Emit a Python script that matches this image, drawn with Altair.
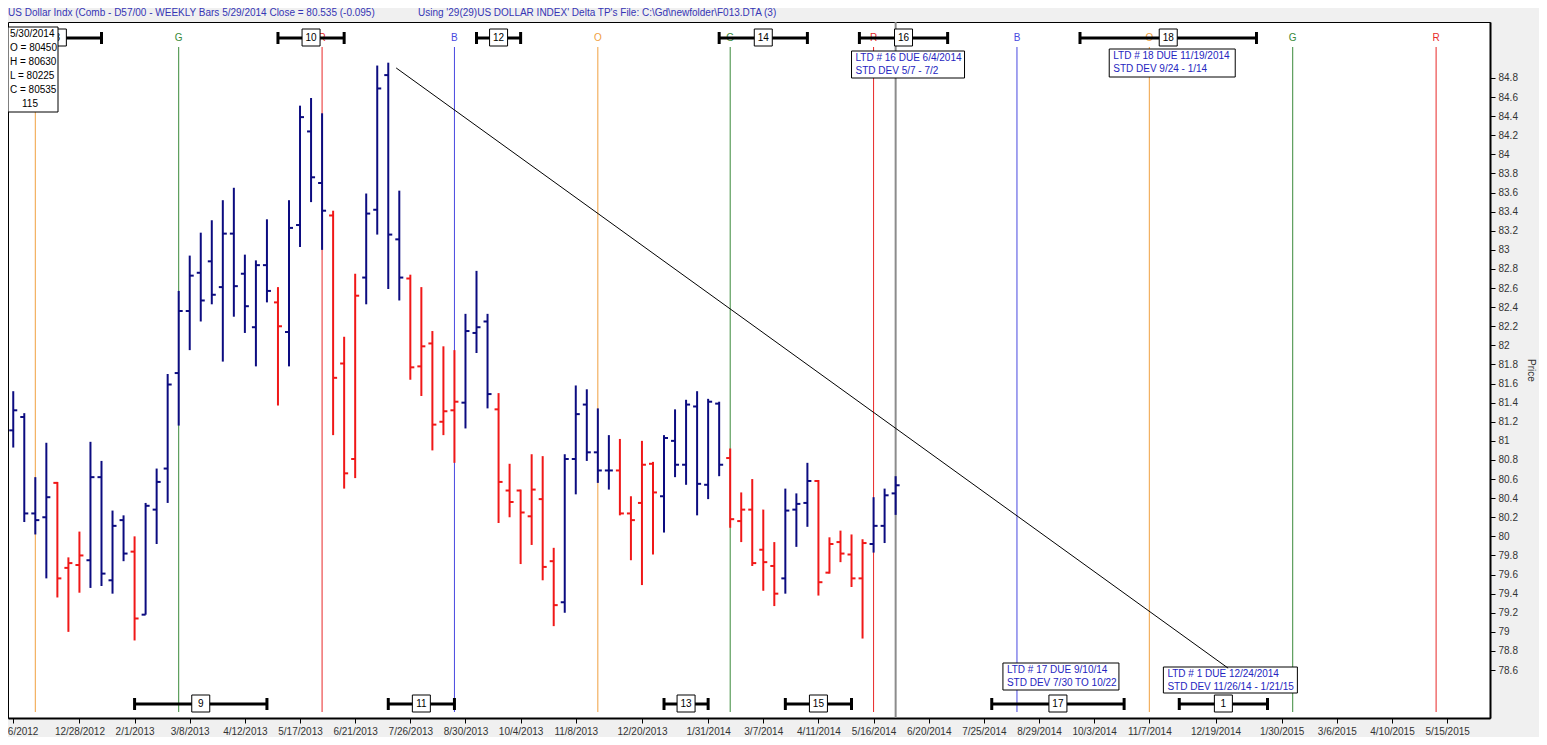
import altair as alt
import pandas as pd

FONT = "Liberation Sans"
NAVY = "#0c0c80"
RED = "#f01818"

# ---------------- weekly OHLC data ----------------
dates = [
    "2012-11-16", "2012-11-23", "2012-11-30", "2012-12-07", "2012-12-14", "2012-12-21", "2012-12-28",
    "2013-01-04", "2013-01-11", "2013-01-18", "2013-01-25", "2013-02-01", "2013-02-08", "2013-02-15", "2013-02-22",
    "2013-03-01", "2013-03-08", "2013-03-15", "2013-03-22", "2013-03-29", "2013-04-05", "2013-04-12", "2013-04-19", "2013-04-26",
    "2013-05-03", "2013-05-10", "2013-05-17", "2013-05-24", "2013-05-31", "2013-06-07", "2013-06-14", "2013-06-21", "2013-06-28",
    "2013-07-05", "2013-07-12", "2013-07-19", "2013-07-26", "2013-08-02", "2013-08-09", "2013-08-16", "2013-08-23", "2013-08-30",
    "2013-09-06", "2013-09-13", "2013-09-20", "2013-09-27", "2013-10-04", "2013-10-11", "2013-10-18", "2013-10-25",
    "2013-11-01", "2013-11-08", "2013-11-15", "2013-11-22", "2013-11-29", "2013-12-06", "2013-12-13", "2013-12-20", "2013-12-27",
    "2014-01-03", "2014-01-10", "2014-01-17", "2014-01-24", "2014-01-31", "2014-02-07", "2014-02-14", "2014-02-21", "2014-02-28",
    "2014-03-07", "2014-03-14", "2014-03-21", "2014-03-28", "2014-04-04", "2014-04-11", "2014-04-18", "2014-04-25",
    "2014-05-02", "2014-05-09", "2014-05-16", "2014-05-23", "2014-05-30",
]
opens = [
    81.11, 81.25, 80.24, 80.20, 80.56, 79.67, 79.70,
    79.75, 80.62, 79.54, 80.17, 79.84, 79.18, 80.28, 80.71,
    81.71, 82.36, 82.76, 82.88, 82.61, 83.17, 82.75, 82.19, 82.84,
    82.45, 82.14, 83.26, 84.24, 83.70, 83.36, 81.81, 80.81, 82.71,
    83.42, 84.83, 83.11, 82.70, 81.78, 82.02, 81.20, 81.32, 81.40,
    82.13, 82.25, 81.33, 80.48, 80.48, 80.21, 80.39, 79.74,
    79.31, 80.81, 81.38, 80.88, 80.69, 80.69, 80.24, 80.35, 80.76,
    80.42, 81.00, 80.75, 81.36, 80.54, 81.39, 80.82, 80.16, 80.28,
    79.86, 79.69, 79.56, 80.28, 80.35, 80.58, 79.62, 79.94,
    79.81, 79.56, 79.92, 80.11, 80.45,
]
highs = [
    81.52, 81.29, 80.62, 80.98, 80.57, 79.78, 80.05,
    80.99, 80.79, 80.27, 80.22, 80.00, 80.35, 80.71, 81.70,
    82.57, 82.94, 83.18, 83.31, 83.52, 83.65, 82.95, 82.89, 83.32,
    82.61, 83.52, 84.51, 84.59, 84.43, 83.41, 82.09, 82.75, 83.59,
    84.93, 84.96, 83.62, 82.74, 82.61, 82.15, 81.99, 81.95, 82.33,
    82.78, 82.33, 81.50, 80.76, 80.49, 80.86, 80.84, 79.88,
    80.86, 81.58, 81.54, 81.34, 81.06, 81.02, 80.42, 81.00, 80.78,
    81.06, 81.33, 81.43, 81.52, 81.44, 81.41, 80.92, 80.46, 80.60,
    80.28, 79.94, 80.50, 80.45, 80.77, 80.59, 79.99, 80.06,
    80.02, 79.97, 80.41, 80.50, 80.63,
]
lows = [
    80.93, 80.15, 80.02, 79.56, 79.36, 79.00, 79.41,
    79.46, 79.48, 79.40, 79.74, 78.91, 79.18, 79.92, 80.35,
    81.16, 81.95, 82.25, 82.43, 81.83, 82.30, 82.13, 81.78, 82.45,
    81.37, 81.78, 83.03, 83.50, 83.00, 81.06, 80.50, 80.61, 82.43,
    83.16, 82.59, 82.47, 81.64, 81.47, 80.90, 81.06, 80.77, 81.13,
    81.92, 81.34, 80.14, 80.20, 79.71, 79.91, 79.54, 79.06,
    79.20, 80.44, 80.79, 80.56, 80.49, 80.22, 79.75, 79.49, 79.81,
    80.04, 80.62, 80.54, 80.22, 80.39, 80.63, 80.09, 79.94, 79.69,
    79.43, 79.27, 79.40, 79.89, 80.10, 79.38, 79.61, 79.73,
    79.47, 78.93, 79.83, 79.93, 80.225,
]
closes = [
    81.32, 80.24, 80.17, 80.41, 79.56, 79.72, 79.80,
    80.62, 79.61, 80.11, 79.82, 79.14, 80.32, 80.57, 81.59,
    82.36, 82.73, 82.47, 82.53, 83.17, 82.62, 82.41, 82.84, 82.57,
    82.20, 83.23, 84.39, 83.76, 83.41, 81.66, 80.66, 82.52, 83.38,
    84.69, 83.16, 82.71, 81.77, 81.99, 81.17, 81.31, 81.41, 82.15,
    82.19, 81.49, 80.57, 80.36, 80.25, 80.49, 79.68, 79.28,
    80.81, 81.28, 80.88, 80.69, 80.69, 80.24, 80.17, 80.75, 80.46,
    81.03, 80.75, 81.38, 80.55, 81.41, 80.75, 80.18, 80.28, 79.72,
    79.73, 79.40, 80.27, 80.34, 80.58, 79.52, 79.92, 79.82,
    79.56, 79.93, 80.11, 80.43, 80.535,
]
bar_color = list(
    "BBBB" "RRR" "BBBB" "R" "BBBBBBBBBBBB" "R" "BBBB" "RRR" "BBBB" "RRRRR"
    "BBB" "RRRRRR" "BBBBB" "RRRR" "BBBBBB" "RRRRR" "BBB" "RRRRR" "BBB"
)

# ---------------- axis ticks ----------------
x_label_dates = [
    "2012-11-16", "2012-12-28", "2013-02-01", "2013-03-08", "2013-04-12", "2013-05-17", "2013-06-21",
    "2013-07-26", "2013-08-30", "2013-10-04", "2013-11-08", "2013-12-20", "2014-01-31", "2014-03-07",
    "2014-04-11", "2014-05-16", "2014-06-20", "2014-07-25", "2014-08-29", "2014-10-03", "2014-11-07",
    "2014-12-19", "2015-01-30", "2015-03-06", "2015-04-10", "2015-05-15",
]
y_tick_values = [78.6, 78.8, 79.0, 79.2, 79.4, 79.6, 79.8, 80.0, 80.2, 80.4, 80.6, 80.8, 81.0, 81.2,
                 81.4, 81.6, 81.8, 82.0, 82.2, 82.4, 82.6, 82.8, 83.0, 83.2, 83.4, 83.6, 83.8, 84.0,
                 84.2, 84.4, 84.6, 84.8]

# ---------------- time-turn lines ----------------
tp_dates = ["2012-11-30", "2013-03-01", "2013-05-31", "2013-08-23", "2013-11-22", "2014-02-14",
            "2014-05-16", "2014-08-15", "2014-11-07", "2015-02-06", "2015-05-08"]
tp_letters = ["O", "G", "R", "B", "O", "G", "R", "B", "O", "G", "R"]
tp_palette = {"O": "#f0a040", "G": "#3a8a3a", "R": "#e82828", "B": "#4848e0"}
current_date = ["2014-05-30"]

# ---------------- cycle ranges ----------------
top_labels = ["8", "10", "12", "14", "16", "18"]
top_start = ["2012-11-16", "2013-05-03", "2013-09-06", "2014-02-07", "2014-05-07", "2014-09-24"]
top_end = ["2013-01-11", "2013-06-14", "2013-10-04", "2014-04-04", "2014-07-02", "2015-01-14"]
top_box = ["2012-12-14", "2013-05-24", "2013-09-20", "2014-03-07", "2014-06-04", "2014-11-19"]
bot_labels = ["9", "11", "13", "15", "17", "1"]
bot_start = ["2013-02-01", "2013-07-12", "2014-01-03", "2014-03-21", "2014-07-30", "2014-11-26"]
bot_end = ["2013-04-26", "2013-08-23", "2014-01-31", "2014-05-02", "2014-10-22", "2015-01-21"]
bot_box = ["2013-03-15", "2013-08-02", "2014-01-17", "2014-04-11", "2014-09-10", "2014-12-24"]

# ---------------- annotations ----------------
ltd_due = ["2014-06-04", "2014-11-19", "2014-09-10", "2014-12-24"]
ltd_text = [
    "LTD # 16 DUE 6/4/2014\nSTD DEV 5/7 -  7/2",
    "LTD # 18 DUE 11/19/2014\nSTD DEV 9/24 - 1/14",
    "LTD # 17 DUE 9/10/14\nSTD DEV 7/30 TO 10/22",
    "LTD # 1 DUE 12/24/2014\nSTD DEV 11/26/14 - 1/21/15",
]
ltd_box_px = [(-52, 61, 29, 56), (-59, 67, 27, 55), (-55, 61, 641, 668), (-60, 74, 645, 671)]

trend_dates = ["2013-07-17", "2014-12-27"]
trend_prices = [84.905, 78.62]

info_lines = ["5/30/2014", "O = 80450", "H = 80630", "L = 80225", "C = 80535"]
info_count = "115"
title_left = "US Dollar Indx (Comb - D57/00  - WEEKLY Bars  5/29/2014 Close = 80.535 (-0.095)"
title_right = "Using '29(29)US DOLLAR INDEX' Delta TP's   File: C:\\Gd\\newfolder\\F013.DTA (3)"

W, H = 1482, 696


def dt(s, hours=0):
    y, m, d = [int(p) for p in s.split("-")]
    return alt.DateTime(year=y, month=m, date=d, hours=hours, utc=True)


x_scale = alt.Scale(type="utc", domain=[dt("2012-11-12", 16), dt("2015-06-11", 5)])
y_scale = alt.Scale(domain=[78.098, 85.386], nice=False, zero=False)
x_axis = alt.Axis(values=[dt(s) for s in x_label_dates],
                  labelExpr="utcFormat(datum.value, '%-m/%-d/%Y')",
                  labelFontSize=10, labelFont=FONT, labelColor="#333333", tickColor="black", tickSize=5,
                  domainColor="black", domainWidth=2, grid=False, title=None, labelOverlap=False,
                  labelFlush=False, labelPadding=3)
y_axis = alt.Axis(orient="right", values=y_tick_values, format="~g", labelFontSize=10, labelFont=FONT,
                  labelColor="#333333", tickColor="black", tickSize=5, domainColor="black", domainWidth=2,
                  grid=False, title="Price", titleFontSize=10, titleFont=FONT, titleFontWeight="normal",
                  titleColor="#333333", titlePadding=8, labelPadding=3)


def X(f):
    return alt.X(f, type="temporal", scale=x_scale, axis=x_axis)


def Y(f):
    return alt.Y(f, type="quantitative", scale=y_scale, axis=y_axis)


bars = pd.DataFrame({"date": dates, "open": opens, "high": highs, "low": lows,
                     "close": closes, "col": bar_color})
col_enc = alt.Color("col:N", scale=alt.Scale(domain=["B", "R"], range=[NAVY, RED]), legend=None)

tp = pd.DataFrame({"date": tp_dates, "letter": tp_letters,
                   "c": [tp_palette[l] for l in tp_letters]})

layers = []

# time-turn vertical lines and letters
layers.append(alt.Chart(tp).mark_rule(strokeWidth=1).encode(
    x=X("date"), y=alt.value(25), y2=alt.value(690), color=alt.Color("c:N", scale=None)))
layers.append(alt.Chart(pd.DataFrame({"date": current_date})).mark_rule(strokeWidth=2, color="#8c8c8c").encode(
    x=X("date"), y=alt.value(0), y2=alt.value(H)))
layers.append(alt.Chart(tp).mark_text(fontSize=10, font=FONT, baseline="middle").encode(
    x=X("date"), y=alt.value(16), text="letter:N", color=alt.Color("c:N", scale=None)))

# OHLC bars
layers.append(alt.Chart(bars).mark_rule(strokeWidth=2).encode(
    x=X("date"), y=Y("low"), y2="high", color=col_enc))
layers.append(alt.Chart(bars).mark_rule(strokeWidth=2, xOffset=-4, x2Offset=0).encode(
    x=X("date"), x2="date", y=Y("open"), color=col_enc))
layers.append(alt.Chart(bars).mark_rule(strokeWidth=2, xOffset=0, x2Offset=4).encode(
    x=X("date"), x2="date", y=Y("close"), color=col_enc))

# cycle range bars
for labels, starts, ends, boxes, yc in [
    (top_labels, top_start, top_end, top_box, 16),
    (bot_labels, bot_start, bot_end, bot_box, 682),
]:
    rdf = pd.DataFrame({"start": starts, "end": ends, "box": boxes, "label": labels})
    caps = pd.DataFrame({"d": starts + ends})
    layers.append(alt.Chart(rdf).mark_rule(strokeWidth=3, color="black").encode(
        x=X("start"), x2="end", y=alt.value(yc)))
    layers.append(alt.Chart(caps).mark_rule(strokeWidth=3, color="black").encode(
        x=X("d"), y=alt.value(yc - 6), y2=alt.value(yc + 6)))
    layers.append(alt.Chart(rdf).mark_rect(fill="white", stroke="black", strokeWidth=1,
                                           xOffset=-9, x2Offset=9).encode(
        x=X("box"), x2="box", y=alt.value(yc - 9), y2=alt.value(yc + 8)))
    layers.append(alt.Chart(rdf).mark_text(fontSize=10, font=FONT, color="black", baseline="middle").encode(
        x=X("box"), y=alt.value(yc), text="label:N"))

# LTD annotation boxes
for due, txt, (lo, ro, top, bot) in zip(ltd_due, ltd_text, ltd_box_px):
    adf = pd.DataFrame({"due": [due], "t": [txt]})
    layers.append(alt.Chart(adf).mark_rect(fill="white", stroke="black", strokeWidth=1,
                                           xOffset=lo, x2Offset=ro).encode(
        x=X("due"), x2="due", y=alt.value(top), y2=alt.value(bot)))
    layers.append(alt.Chart(adf).mark_text(fontSize=10, font=FONT, color="#2525c0", align="left",
                                           baseline="middle", lineBreak="\n", lineHeight=13,
                                           dx=lo + 4).encode(
        x=X("due"), y=alt.value(top + 7), text="t:N"))

# trend line
trend = pd.DataFrame({"d1": [trend_dates[0]], "d2": [trend_dates[1]],
                      "p1": [trend_prices[0]], "p2": [trend_prices[1]]})
layers.append(alt.Chart(trend).mark_rule(color="black", strokeWidth=1).encode(
    x=X("d1"), x2="d2", y=Y("p1"), y2="p2"))

# info box (top-left)
one = pd.DataFrame({"t": ["\n".join(info_lines)], "n": [info_count],
                    "a": [title_left], "b": [title_right]})
layers.append(alt.Chart(one).mark_rect(fill="white", stroke="black", strokeWidth=1).encode(
    x=alt.value(0), x2=alt.value(50), y=alt.value(5), y2=alt.value(90)))
layers.append(alt.Chart(one).mark_text(fontSize=10, font=FONT, color="black", align="left",
                                       baseline="middle", lineBreak="\n", lineHeight=14).encode(
    x=alt.value(2), y=alt.value(12), text="t:N"))
layers.append(alt.Chart(one).mark_text(fontSize=10, font=FONT, color="black", align="center",
                                       baseline="middle").encode(
    x=alt.value(22), y=alt.value(82), text="n:N"))

# header text
layers.append(alt.Chart(one).mark_text(fontSize=10, font=FONT, color="#3535b5", align="left",
                                       baseline="alphabetic").encode(
    x=alt.value(0), y=alt.value(-6), text="a:N"))
layers.append(alt.Chart(one).mark_text(fontSize=10, font=FONT, color="#3535b5", align="left",
                                       baseline="alphabetic").encode(
    x=alt.value(410), y=alt.value(-6), text="b:N"))

chart = alt.layer(*layers).properties(
    width=W, height=H,
    autosize=alt.AutoSizeParams(type="none"),
    padding={"left": 0, "top": 14, "right": 49, "bottom": 19},
    background="#f0f0f0",
).configure_view(fill="white", stroke="black", strokeWidth=1)

chart.save("out.html", embed_options={"renderer": "svg", "actions": False})
